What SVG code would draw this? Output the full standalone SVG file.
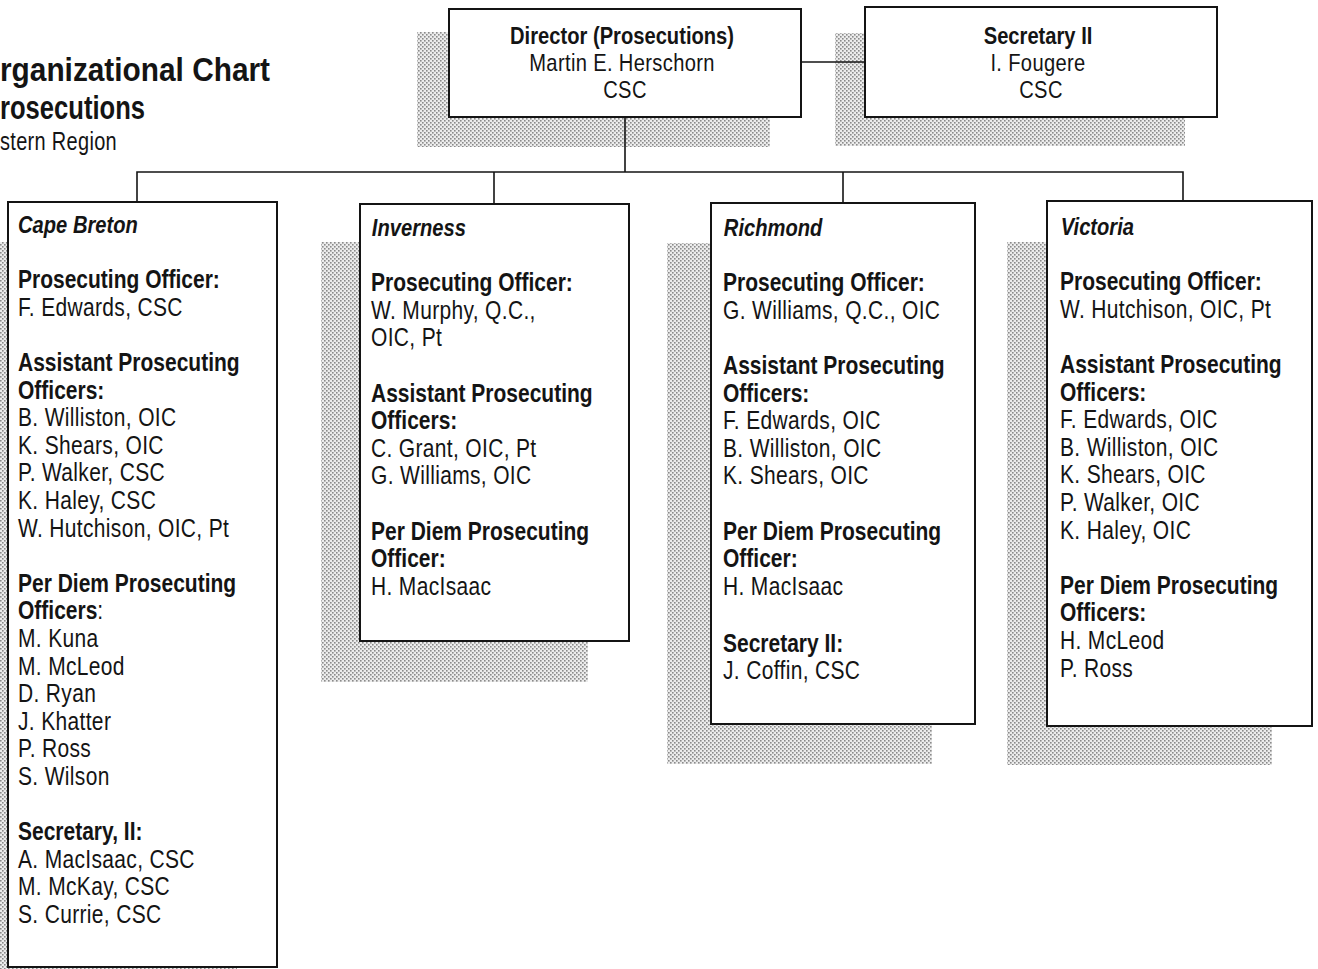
<svg xmlns="http://www.w3.org/2000/svg" width="1318" height="969" viewBox="0 0 1318 969">
  <defs>
    <!-- halftone screen used for the drop shadows -->
    <pattern id="dots" width="4" height="4" patternUnits="userSpaceOnUse">
      <rect width="4" height="4" fill="#ececec"/>
      <rect x="0" y="0" width="1.6" height="1.6" fill="#8a8a8a"/>
      <rect x="2" y="2" width="1.6" height="1.6" fill="#8a8a8a"/>
    </pattern>
    <style>
      .shadow { fill: url(#dots); }
      .box { fill: #ffffff; stroke: #141414; stroke-width: 2; }
      .conn { fill: none; stroke: #141414; stroke-width: 1.6; }
      text { font-family: "Liberation Sans", Arial, sans-serif; fill: #141414; font-size: 25px; letter-spacing: 0.4px; }
      .b { font-weight: bold; letter-spacing: 0; }
      .n { font-weight: normal; }
      .area { font-weight: bold; font-style: italic; font-size: 24px; letter-spacing: 0; }
      .head { font-size: 24px; }
      .ttl { font-weight: bold; font-size: 34px; letter-spacing: 0; }
    </style>
  </defs>

  <rect width="1318" height="969" fill="#ffffff"/>

  <!-- chart title -->
  <g id="title">
    <text class="ttl" x="0" y="81" textLength="270" lengthAdjust="spacingAndGlyphs">rganizational Chart</text>
    <text class="ttl" x="0" y="119" textLength="145" lengthAdjust="spacingAndGlyphs">rosecutions</text>
    <text x="0" y="150" font-size="24" textLength="117" lengthAdjust="spacingAndGlyphs">stern Region</text>
  </g>

  <!-- Director -->
  <g id="director">
    <rect class="shadow" x="417" y="32" width="353" height="115"/>
    <rect class="box" x="449" y="9" width="352" height="108"/>
    <text class="head" text-anchor="middle" transform="matrix(0.84 0 0 1 625 0)">
      <tspan class="b" x="0" y="44">Director (Prosecutions)</tspan>
      <tspan x="0" y="71">Martin E. Herschorn</tspan>
      <tspan x="0" y="98">CSC</tspan>
    </text>
  </g>

  <!-- Secretary to the Director -->
  <g id="secretary">
    <rect class="shadow" x="835" y="33" width="350" height="113"/>
    <rect class="box" x="865" y="7" width="352" height="110"/>
    <text class="head" text-anchor="middle" transform="matrix(0.84 0 0 1 1041 0)">
      <tspan class="b" x="0" y="44">Secretary II</tspan>
      <tspan x="0" y="71">I. Fougere</tspan>
      <tspan x="0" y="98">CSC</tspan>
    </text>
  </g>

  <!-- Cape Breton -->
  <g id="cape-breton">
    <rect class="shadow" x="-32" y="242" width="269" height="765"/>
    <rect class="box" x="8" y="202" width="269" height="765"/>
    <g transform="matrix(0.84 0 0 1 18 0)">
      <text class="area" x="0" y="233">Cape Breton</text>
      <text>
        <tspan class="b" x="0" y="288">Prosecuting Officer:</tspan>
        <tspan x="0" y="316">F. Edwards, CSC</tspan>
        <tspan class="b" x="0" y="371">Assistant Prosecuting</tspan>
        <tspan class="b" x="0" y="399">Officers:</tspan>
        <tspan x="0" y="426">B. Williston, OIC</tspan>
        <tspan x="0" y="454">K. Shears, OIC</tspan>
        <tspan x="0" y="481">P. Walker, CSC</tspan>
        <tspan x="0" y="509">K. Haley, CSC</tspan>
        <tspan x="0" y="537">W. Hutchison, OIC, Pt</tspan>
        <tspan class="b" x="0" y="592">Per Diem Prosecuting</tspan>
        <tspan class="b" x="0" y="619">Officers</tspan><tspan class="n">:</tspan>
        <tspan x="0" y="647">M. Kuna</tspan>
        <tspan x="0" y="675">M. McLeod</tspan>
        <tspan x="0" y="702">D. Ryan</tspan>
        <tspan x="0" y="730">J. Khatter</tspan>
        <tspan x="0" y="757">P. Ross</tspan>
        <tspan x="0" y="785">S. Wilson</tspan>
        <tspan class="b" x="0" y="840">Secretary, II:</tspan>
        <tspan x="0" y="868">A. MacIsaac, CSC</tspan>
        <tspan x="0" y="895">M. McKay, CSC</tspan>
        <tspan x="0" y="923">S. Currie, CSC</tspan>
      </text>
    </g>
  </g>

  <!-- Inverness -->
  <g id="inverness">
    <rect class="shadow" x="321" y="242" width="267" height="440"/>
    <rect class="box" x="360" y="204" width="269" height="437"/>
    <g transform="matrix(0.84 0 0 1 371 0)">
      <text class="area" x="1" y="236">Inverness</text>
      <text>
        <tspan class="b" x="0" y="291">Prosecuting Officer:</tspan>
        <tspan x="0" y="319">W. Murphy, Q.C.,</tspan>
        <tspan x="0" y="346">OIC, Pt</tspan>
        <tspan class="b" x="0" y="402">Assistant Prosecuting</tspan>
        <tspan class="b" x="0" y="429">Officers:</tspan>
        <tspan x="0" y="457">C. Grant, OIC, Pt</tspan>
        <tspan x="0" y="484">G. Williams, OIC</tspan>
        <tspan class="b" x="0" y="540">Per Diem Prosecuting</tspan>
        <tspan class="b" x="0" y="567">Officer:</tspan>
        <tspan x="0" y="595">H. MacIsaac</tspan>
      </text>
    </g>
  </g>

  <!-- Richmond -->
  <g id="richmond">
    <rect class="shadow" x="667" y="243" width="265" height="521"/>
    <rect class="box" x="711" y="203" width="264" height="521"/>
    <g transform="matrix(0.84 0 0 1 723 0)">
      <text class="area" x="1" y="236">Richmond</text>
      <text>
        <tspan class="b" x="0" y="291">Prosecuting Officer:</tspan>
        <tspan x="0" y="319">G. Williams, Q.C., OIC</tspan>
        <tspan class="b" x="0" y="374">Assistant Prosecuting</tspan>
        <tspan class="b" x="0" y="402">Officers:</tspan>
        <tspan x="0" y="429">F. Edwards, OIC</tspan>
        <tspan x="0" y="457">B. Williston, OIC</tspan>
        <tspan x="0" y="484">K. Shears, OIC</tspan>
        <tspan class="b" x="0" y="540">Per Diem Prosecuting</tspan>
        <tspan class="b" x="0" y="567">Officer:</tspan>
        <tspan x="0" y="595">H. MacIsaac</tspan>
        <tspan class="b" x="0" y="652">Secretary II:</tspan>
        <tspan x="0" y="679">J. Coffin, CSC</tspan>
      </text>
    </g>
  </g>

  <!-- Victoria -->
  <g id="victoria">
    <rect class="shadow" x="1007" y="242" width="265" height="523"/>
    <rect class="box" x="1047" y="201" width="265" height="525"/>
    <g transform="matrix(0.84 0 0 1 1060 0)">
      <text class="area" x="1" y="235">Victoria</text>
      <text>
        <tspan class="b" x="0" y="290">Prosecuting Officer:</tspan>
        <tspan x="0" y="318">W. Hutchison, OIC, Pt</tspan>
        <tspan class="b" x="0" y="373">Assistant Prosecuting</tspan>
        <tspan class="b" x="0" y="401">Officers:</tspan>
        <tspan x="0" y="428">F. Edwards, OIC</tspan>
        <tspan x="0" y="456">B. Williston, OIC</tspan>
        <tspan x="0" y="483">K. Shears, OIC</tspan>
        <tspan x="0" y="511">P. Walker, OIC</tspan>
        <tspan x="0" y="539">K. Haley, OIC</tspan>
        <tspan class="b" x="0" y="594">Per Diem Prosecuting</tspan>
        <tspan class="b" x="0" y="621">Officers:</tspan>
        <tspan x="0" y="649">H. McLeod</tspan>
        <tspan x="0" y="677">P. Ross</tspan>
      </text>
    </g>
  </g>

  <!-- reporting lines -->
  <g id="connectors" class="conn">
    <line x1="801" y1="62" x2="865" y2="62"/>
    <line x1="625" y1="117" x2="625" y2="172"/>
    <polyline points="137,202 137,172 1183,172 1183,201"/>
    <line x1="494" y1="172" x2="494" y2="204"/>
    <line x1="843" y1="172" x2="843" y2="203"/>
  </g>
</svg>
